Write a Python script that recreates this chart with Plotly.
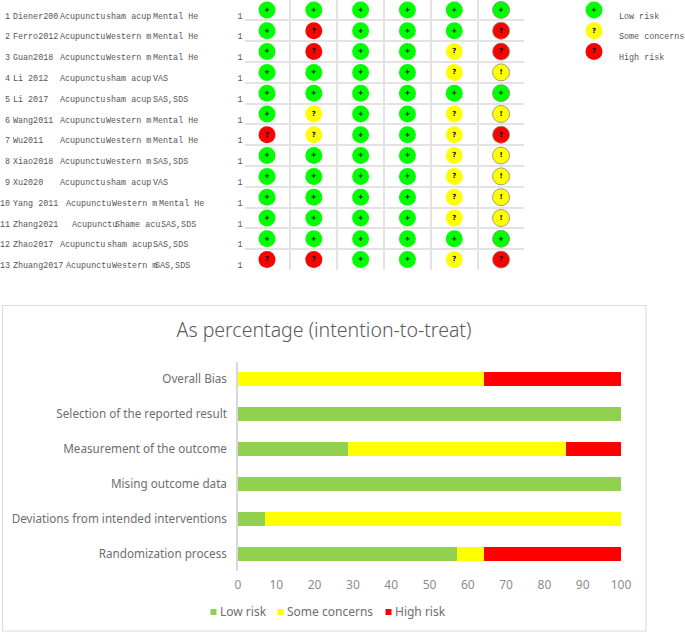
import plotly.graph_objects as go

W, H = 685, 633

# ---------- data: risk table ----------
row_numbers = ["1","2","3","4","5","6","7","8","9","10","11","12","13"]
studies = ["Diener200","Ferro2012","Guan2018","Li 2012","Li 2017","Wang2011","Wu2011","Xiao2018","Xu2020","Yang 2011","Zhang2021","Zhao2017","Zhuang2017"]
interventions = ["Acupunctu"]*13
comparators = ["sham acup","Western m","Western m","sham acup","sham acup","Western m","Western m","Western m","sham acup","Western m","Shame acu","sham acup","Western m"]
outcomes = ["Mental He","Mental He","Mental He","VAS","SAS,SDS","Mental He","Mental He","SAS,SDS","VAS","Mental He","SAS,SDS","SAS,SDS","SAS,SDS"]
weights = ["1"]*13

domain_1 = ["+","+","+","+","+","+","R","+","+","+","+","+","R"]
domain_2 = ["+","R","R","+","+","?","?","+","+","+","+","+","R"]
domain_3 = ["+"]*13
domain_4 = ["+"]*13
domain_5 = ["+","+","?","?","+","?","?","?","?","?","?","+","?"]
overall  = ["+","R","R","!","+","!","R","!","!","!","!","+","R"]
judgements = [domain_1, domain_2, domain_3, domain_4, domain_5, overall]

key_labels = ["Low risk", "Some concerns", "High risk"]
key_codes = ["+", "?", "R"]

# ---------- data: stacked bars ----------
bar_categories = ["Randomization process","Deviations from intended interventions","Mising outcome data",
                  "Measurement of the outcome","Selection of the reported result","Overall Bias"]
low_risk = [57.1, 7.1, 100, 28.6, 100, 0]
some_concerns = [7.1, 92.9, 0, 57.1, 0, 64.3]
high_risk = [35.7, 0, 0, 14.3, 0, 35.7]
series_names = ["Low risk", "Some concerns", "High risk"]

# ---------- style ----------
FILL = {"+": "#00ff00", "?": "#ffff00", "!": "#ffff00", "R": "#ff0000"}
GLYPH = {"+": "+", "?": "?", "!": "!", "R": "?"}
BAR_COLOURS = ["#92d050", "#ffff00", "#ff0000"]
GREY_TXT = "#595959"
MONO = "Liberation Mono"
SANS = "Noto Sans"
GLYPH_FONT = dict(family="DejaVu Sans", size=7, color="#000000", weight="bold")
MONO_FONT = dict(family=MONO, size=8.4, color="#555555")

def row_y(row):       # page position of a table row's circle
    return 10 + 20.8 * (row - 1)

fig = go.Figure()

# risk circles
for col, values in enumerate(judgements, start=1):
    fig.add_trace(go.Scatter(
        x=[col]*len(values), y=list(range(1, len(values)+1)),
        mode="markers+text", cliponaxis=False, showlegend=False, hoverinfo="skip",
        marker=dict(size=17, color=[FILL[v] for v in values],
                    line=dict(width=0.8 if col == 6 else 0, color="#8a8a70")),
        text=[GLYPH[v] for v in values], textposition="middle center",
        textfont=GLYPH_FONT, xaxis="x", yaxis="y"))

# stacked bars
for name, vals, colour in zip(series_names, [low_risk, some_concerns, high_risk], BAR_COLOURS):
    fig.add_trace(go.Bar(y=bar_categories, x=vals, name=name, orientation="h", showlegend=False,
                         marker=dict(color=colour, line=dict(width=0)), xaxis="x2", yaxis="y2"))

# overlay axes spanning the page: table text and the two keys
def text_col(labels, xs, ys, pos="middle right", font=MONO_FONT):
    fig.add_trace(go.Scatter(x=xs, y=ys, text=labels, mode="text", textposition=pos,
                             textfont=font, cliponaxis=False, showlegend=False, hoverinfo="skip",
                             xaxis="x3", yaxis="y3"))

rows = list(range(1, 14))
text_ys = [row_y(r) + 6.5 for r in rows]
interv_x = {9: 66, 10: 72, 12: 66}
comp_x = {9: 112, 10: 115, 11: 107, 12: 112}
outc_x = {9: 159, 10: 161, 12: 155}
text_col(row_numbers, [10]*13, text_ys, "middle left")
text_col(studies, [13]*13, text_ys)
text_col(interventions, [interv_x.get(i, 60) for i in range(13)], text_ys)
text_col(comparators, [comp_x.get(i, 106) for i in range(13)], text_ys)
text_col(outcomes, [outc_x.get(i, 153) for i in range(13)], text_ys)
text_col(weights, [242.5]*13, text_ys, "middle left")

# risk key, top right
fig.add_trace(go.Scatter(
    x=[594]*3, y=[row_y(r) for r in (1, 2, 3)], mode="markers+text", cliponaxis=False,
    showlegend=False, hoverinfo="skip",
    marker=dict(size=17, color=[FILL[c] for c in key_codes]),
    text=[GLYPH[c] for c in key_codes], textposition="middle center",
    textfont=GLYPH_FONT, xaxis="x3", yaxis="y3"))
text_col(key_labels, [619]*3, [row_y(r) + 6.5 for r in (1, 2, 3)])

# bar key, below the bars
key_sq_x = [213.5, 280.5, 388.5]
fig.add_trace(go.Scatter(x=key_sq_x, y=[612]*3, mode="markers", cliponaxis=False, showlegend=False,
                         hoverinfo="skip", marker=dict(symbol="square", size=6, color=BAR_COLOURS, line=dict(width=0)),
                         xaxis="x3", yaxis="y3"))
text_col(series_names, [v + 6.5 for v in key_sq_x], [613]*3, font=dict(family=SANS, size=12, color="#6e6e6e"))

hidden = dict(visible=False, showgrid=False, zeroline=False, fixedrange=True)
fig.update_layout(
    width=W, height=H, margin=dict(l=0, r=0, t=0, b=0, autoexpand=False),
    paper_bgcolor="white", plot_bgcolor="rgba(0,0,0,0)",
    barmode="stack", bargap=0.6, showlegend=False,
    title=dict(text="As percentage (intention-to-treat)", x=324/W, xanchor="center", xref="paper",
               y=1-330.5/H, yanchor="middle", yref="paper",
               font=dict(family=SANS, size=19.5, color=GREY_TXT, weight=300)),
    xaxis=dict(domain=[245/W, 524/W], range=[0.53, 6.49], tickvals=[1.5,2.5,3.5,4.5,5.5], showticklabels=False,
               showgrid=True, gridcolor="#e3e3e3", gridwidth=1.5, zeroline=False, showline=False, ticks="", anchor="y"),
    yaxis=dict(domain=[1-270/H, 1], range=[13.5, 0.52], tickvals=[r+0.5 for r in range(1, 14)], showticklabels=False,
               showgrid=True, gridcolor="#e3e3e3", gridwidth=1.5, zeroline=False, showline=False, ticks="", anchor="x"),
    xaxis2=dict(domain=[238/W, 621/W], range=[0, 100], dtick=10, showgrid=False, zeroline=False, showline=False,
                ticks="outside", ticklen=3, tickcolor="rgba(0,0,0,0)",
                tickfont=dict(family=SANS, size=12, color="#8c8c8c"), anchor="y2"),
    yaxis2=dict(domain=[1-571/H, 1-361.5/H], type="category", showgrid=False, zeroline=False, showline=True,
                linecolor="#d9d9d9", linewidth=1.5, ticks="outside", ticklen=7, tickcolor="rgba(0,0,0,0)",
                tickfont=dict(family=SANS, size=11.7, color="#6e6e6e"), anchor="x2"),
    xaxis3=dict(domain=[0, 1], range=[0, W], anchor="y3", **hidden),
    yaxis3=dict(domain=[0, 1], range=[H, 0], anchor="x3", **hidden),
    shapes=[dict(type="rect", xref="paper", yref="paper", x0=2.5/W, x1=646/W, y0=1-631/H, y1=1-305.5/H,
                 line=dict(color="#dcdcdc", width=1.2), fillcolor="rgba(0,0,0,0)", layer="below")],
)

fig.write_html("out.html", config={"displayModeBar": False}, post_script="document.body.style.margin='0';")
